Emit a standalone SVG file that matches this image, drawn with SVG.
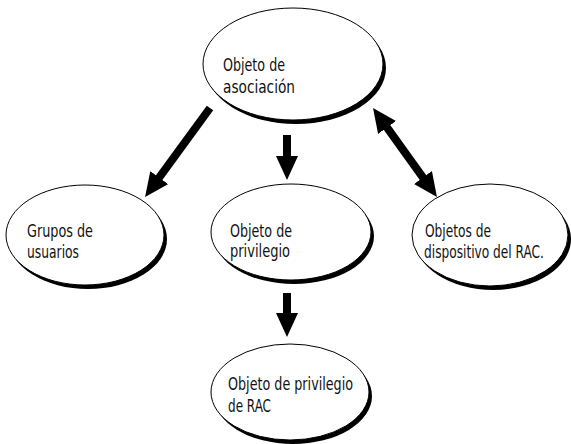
<svg xmlns="http://www.w3.org/2000/svg" width="571" height="444" viewBox="0 0 571 444">
<style>
.shadow{fill:#000}
.body{fill:#fff;stroke:#000;stroke-width:1}
.lbl{font-family:"Liberation Sans Narrow","DejaVu Sans Condensed","Liberation Sans",sans-serif;font-size:18px;fill:#111}
.arr{stroke:#000;stroke-width:8;fill:none}
</style>
<defs>
<marker id="ah" viewBox="0 0 24 22" refX="10" refY="11" markerWidth="24" markerHeight="22" markerUnits="userSpaceOnUse" orient="auto-start-reverse">
<path d="M0,0 L24,11 L0,22 z" fill="#000"/>
</marker>
</defs>
<rect width="571" height="444" fill="#fff"/>
<g id="connectors">
<line class="arr" x1="210" y1="108" x2="153.3" y2="185.7" marker-end="url(#ah)"/>
<line class="arr" x1="287" y1="135" x2="287" y2="166" marker-end="url(#ah)"/>
<line class="arr" x1="381.2" y1="119.4" x2="428.8" y2="185.6" marker-start="url(#ah)" marker-end="url(#ah)"/>
<line class="arr" x1="287" y1="293" x2="287" y2="323" marker-end="url(#ah)"/>
</g>
<g id="asociacion">
<ellipse class="shadow" cx="296" cy="68" rx="90" ry="56"/>
<ellipse class="body" cx="293" cy="64" rx="90" ry="56"/>
<text class="lbl" x="223" y="71" textLength="62" lengthAdjust="spacingAndGlyphs">Objeto de</text>
<text class="lbl" x="223" y="93" textLength="72" lengthAdjust="spacingAndGlyphs">asociación</text>
</g>
<g id="grupos">
<ellipse class="shadow" cx="88" cy="239" rx="79" ry="50"/>
<ellipse class="body" cx="85" cy="235" rx="79" ry="50"/>
<text class="lbl" x="27" y="237" textLength="66" lengthAdjust="spacingAndGlyphs">Grupos de</text>
<text class="lbl" x="27" y="258" textLength="52" lengthAdjust="spacingAndGlyphs">usuarios</text>
</g>
<g id="privilegio">
<ellipse class="shadow" cx="294" cy="236" rx="80" ry="48"/>
<ellipse class="body" cx="291" cy="232" rx="80" ry="48"/>
<text class="lbl" x="230" y="237" textLength="62" lengthAdjust="spacingAndGlyphs">Objeto de</text>
<text class="lbl" x="230" y="257" textLength="60" lengthAdjust="spacingAndGlyphs">privilegio</text>
</g>
<g id="dispositivo">
<ellipse class="shadow" cx="493" cy="239" rx="78" ry="51"/>
<ellipse class="body" cx="490" cy="235" rx="78" ry="51"/>
<text class="lbl" x="425" y="237" textLength="66" lengthAdjust="spacingAndGlyphs">Objetos de</text>
<text class="lbl" x="424" y="258" font-size="16" textLength="120" lengthAdjust="spacingAndGlyphs">dispositivo del RAC.</text>
</g>
<g id="privilegio-rac">
<ellipse class="shadow" cx="293" cy="396" rx="79" ry="48"/>
<ellipse class="body" cx="290" cy="392" rx="79" ry="48"/>
<text class="lbl" x="228" y="390" textLength="125" lengthAdjust="spacingAndGlyphs">Objeto de privilegio</text>
<text class="lbl" x="228" y="412" textLength="43" lengthAdjust="spacingAndGlyphs">de RAC</text>
</g>
</svg>
